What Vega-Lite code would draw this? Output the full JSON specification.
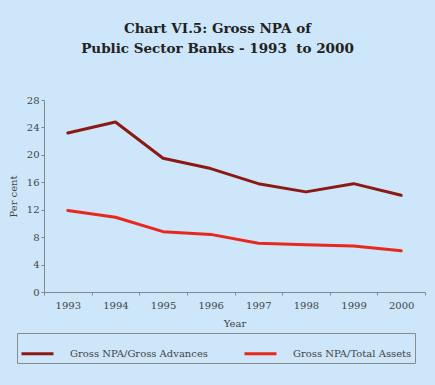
{
  "$schema": "https://vega.github.io/schema/vega-lite/v6.json",
  "autosize": "none",
  "width": 381,
  "height": 192,
  "padding": {"left": 44, "top": 100, "right": 10, "bottom": 93},
  "background": "#cde6f9",
  "title": {
    "text": ["Chart VI.5: Gross NPA of", "Public Sector Banks - 1993\u00a0\u00a0to 2000"],
    "font": "DejaVu Serif",
    "fontSize": 13.5,
    "fontWeight": "bold",
    "color": "#222222",
    "anchor": "middle",
    "dx": -17,
    "offset": 40,
    "lineHeight": 20
  },
  "data": {
    "values": [
      {"year": "1993", "series": "Gross NPA/Gross Advances", "value": 23.2},
      {"year": "1994", "series": "Gross NPA/Gross Advances", "value": 24.8},
      {"year": "1995", "series": "Gross NPA/Gross Advances", "value": 19.5},
      {"year": "1996", "series": "Gross NPA/Gross Advances", "value": 18.0},
      {"year": "1997", "series": "Gross NPA/Gross Advances", "value": 15.8},
      {"year": "1998", "series": "Gross NPA/Gross Advances", "value": 14.6},
      {"year": "1999", "series": "Gross NPA/Gross Advances", "value": 15.8},
      {"year": "2000", "series": "Gross NPA/Gross Advances", "value": 14.1},
      {"year": "1993", "series": "Gross NPA/Total Assets", "value": 11.9},
      {"year": "1994", "series": "Gross NPA/Total Assets", "value": 10.9},
      {"year": "1995", "series": "Gross NPA/Total Assets", "value": 8.8},
      {"year": "1996", "series": "Gross NPA/Total Assets", "value": 8.4},
      {"year": "1997", "series": "Gross NPA/Total Assets", "value": 7.1},
      {"year": "1998", "series": "Gross NPA/Total Assets", "value": 6.9},
      {"year": "1999", "series": "Gross NPA/Total Assets", "value": 6.7},
      {"year": "2000", "series": "Gross NPA/Total Assets", "value": 6.0}
    ]
  },
  "mark": {"type": "line", "strokeWidth": 3, "strokeCap": "round", "strokeJoin": "round"},
  "encoding": {
    "x": {
      "field": "year",
      "type": "ordinal",
      "scale": {"type": "band", "paddingInner": 0, "paddingOuter": 0},
      "axis": {
        "title": "Year",
        "labelAngle": 0,
        "tickBand": "extent",
        "tickSize": 3,
        "labelPadding": 5,
        "titlePadding": 8
      }
    },
    "y": {
      "field": "value",
      "type": "quantitative",
      "scale": {"domain": [0, 28], "nice": false},
      "axis": {
        "title": "Per cent",
        "values": [0, 4, 8, 12, 16, 20, 24, 28],
        "grid": false,
        "tickSize": 3,
        "labelPadding": 2,
        "titlePadding": 8
      }
    },
    "color": {
      "field": "series",
      "type": "nominal",
      "scale": {"domain": ["Gross NPA/Gross Advances", "Gross NPA/Total Assets"], "range": ["#8b1a14", "#e8281c"]},
      "legend": {
        "title": null,
        "orient": "none",
        "legendX": -27,
        "legendY": 233,
        "direction": "horizontal",
        "symbolType": "stroke",
        "symbolSize": 1024,
        "symbolStrokeWidth": 3,
        "labelOffset": 15,
        "columnPadding": 30,
        "padding": 3,
        "strokeColor": "#8a8a8a",
        "labelFont": "DejaVu Serif",
        "labelFontSize": 10,
        "labelColor": "#444444",
        "labelLimit": 300
      }
    }
  },
  "config": {
    "view": {"stroke": null},
    "axis": {
      "domainColor": "#808890",
      "tickColor": "#808890",
      "labelFont": "DejaVu Serif",
      "labelFontSize": 10,
      "labelColor": "#444444",
      "titleFont": "DejaVu Serif",
      "titleFontSize": 10,
      "titleFontWeight": "normal",
      "titleColor": "#444444"
    }
  }
}
